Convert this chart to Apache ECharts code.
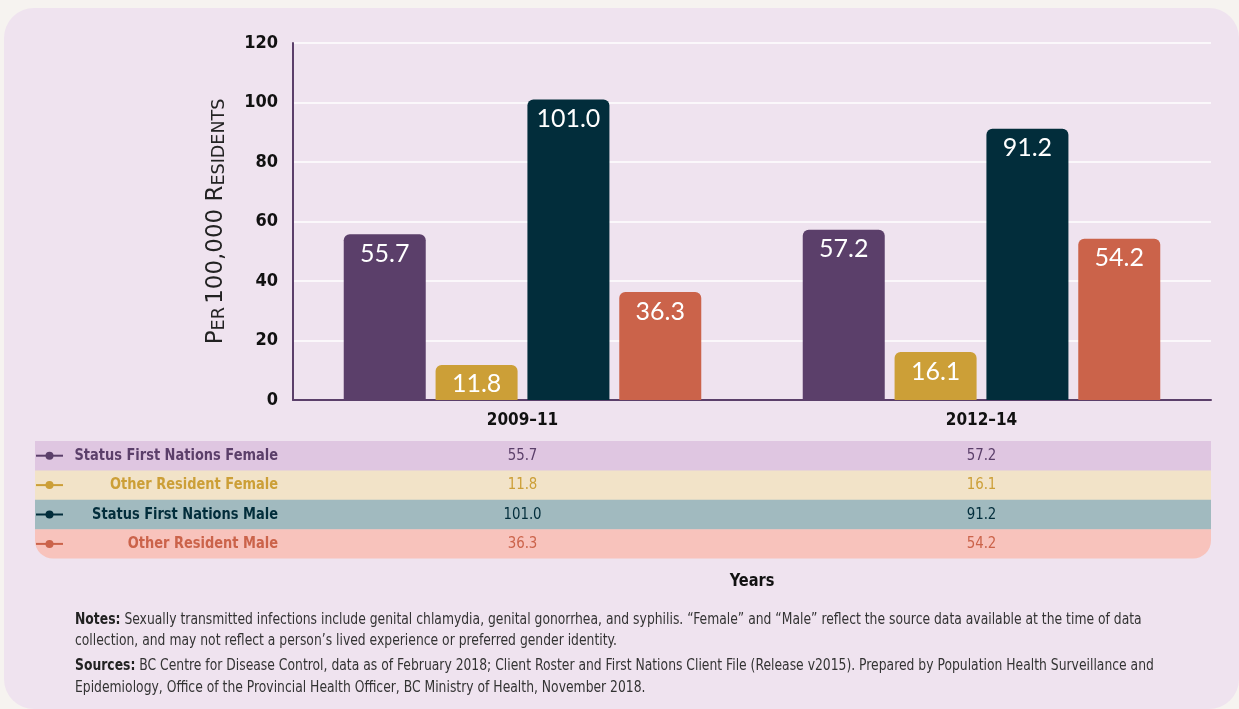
<!DOCTYPE html>
<html>
<head>
<meta charset="utf-8">
<script src="https://cdn.jsdelivr.net/npm/echarts@6/dist/echarts.min.js"></script>
<style>
  html, body { margin: 0; padding: 0; background: #f6f3f0; }
  #panel { position: absolute; left: 4px; top: 8px; width: 1235px; height: 701px; border-radius: 30px; background: #efe3ef; }
  #main { position: absolute; left: 0; top: 0; width: 1239px; height: 709px; }
</style>
</head>
<body>
<div id="panel"></div>
<div id="main"></div>
<script>
// 数据
var years = ['2009–11', '2012–14'];
var seriesNames = ['Status First Nations Female', 'Other Resident Female', 'Status First Nations Male', 'Other Resident Male'];
var sfnFemale = [55.7, 57.2];
var otherFemale = [11.8, 16.1];
var sfnMale = [101.0, 91.2];
var otherMale = [36.3, 54.2];
var yMin = 0, yMax = 120, yStep = 20;

var colors = ['#5b3f6a', '#cc9f37', '#022d3b', '#cb634a'];
var rowColors = ['#dfc6e1', '#f2e3c8', '#a1babf', '#f8c3bc'];
var narrow = "'Liberation Sans Narrow', 'DejaVu Sans Condensed', sans-serif";
var round = "Lato, 'Noto Sans', sans-serif";
var wide = "'DejaVu Sans', 'Noto Sans', sans-serif";
var squeeze = 0.9; // 字体没有窄体，水平压缩一点

var allValues = [sfnFemale, otherFemale, sfnMale, otherMale];

var myChart = echarts.init(document.getElementById('main'));

var option = {
  animation: false,
  backgroundColor: 'transparent',
  grid: { left: 293, right: 28, top: 43, bottom: 309 },
  xAxis: {
    type: 'category',
    data: years,
    axisLine: { lineStyle: { color: '#5b3f6a', width: 2 } },
    axisTick: { show: false },
    axisLabel: { color: '#111', fontFamily: narrow, fontWeight: 'bold', fontSize: 17, margin: 12 }
  },
  yAxis: {
    type: 'value',
    min: yMin,
    max: yMax,
    interval: yStep,
    name: '{a|P}{b|ER} {a|100,000 R}{b|ESIDENTS}',
    nameLocation: 'middle',
    nameGap: 65,
    nameRotate: 90,
    nameTextStyle: {
      color: '#222',
      rich: {
        a: { fontFamily: wide, fontSize: 23, lineHeight: 23, verticalAlign: 'bottom', color: '#222' },
        b: { fontFamily: wide, fontSize: 17.5, lineHeight: 17.5, verticalAlign: 'bottom', color: '#222' }
      }
    },
    axisLine: { show: true, lineStyle: { color: '#5b3f6a', width: 2 } },
    axisTick: { show: false },
    splitLine: { lineStyle: { color: '#ffffff', width: 1.5 } },
    axisLabel: { color: '#111', fontFamily: narrow, fontWeight: 'bold', fontSize: 18, margin: 15 }
  },
  series: seriesNames.map(function (name, i) {
    return {
      name: name,
      type: 'bar',
      data: allValues[i],
      barWidth: 82,
      barGap: '12%',
      itemStyle: { color: colors[i], borderRadius: [6, 6, 0, 0] },
      label: {
        show: true,
        position: 'insideTop',
        distance: 7,
        color: '#fff',
        fontFamily: round,
        fontSize: 25,
        formatter: function (p) { return p.value.toFixed(1); }
      }
    };
  })
};
myChart.setOption(option);

// 表格部分（使用坐标轴换算列位置）
var tableTop = 441, rowH = 29.4, tableLeft = 35, tableRight = 1211;
var elements = [];
seriesNames.forEach(function (name, i) {
  var y = tableTop + i * rowH;
  var cy = y + rowH / 2;
  elements.push({
    type: 'rect', z: -1, silent: true,
    shape: { x: tableLeft, y: y, width: tableRight - tableLeft, height: rowH + (i < 3 ? 0.5 : 0), r: i === 3 ? [0, 0, 18, 18] : 0 },
    style: { fill: rowColors[i] }
  });
  elements.push({ type: 'line', silent: true, shape: { x1: 36, y1: cy, x2: 63, y2: cy }, style: { stroke: colors[i], lineWidth: 2 } });
  elements.push({ type: 'circle', silent: true, shape: { cx: 49.5, cy: cy, r: 4 }, style: { fill: colors[i] } });
  elements.push({
    type: 'text', silent: true, x: 278, y: cy, scaleX: 0.875,
    style: { text: name, align: 'right', verticalAlign: 'middle', fill: colors[i], font: 'bold 16.5px ' + narrow }
  });
  years.forEach(function (yr, j) {
    var cx = myChart.convertToPixel({ xAxisIndex: 0 }, yr);
    elements.push({
      type: 'text', silent: true, x: cx, y: cy, scaleX: squeeze,
      style: { text: allValues[i][j].toFixed(1), align: 'center', verticalAlign: 'middle', fill: colors[i], font: '16.5px ' + narrow }
    });
  });
});

var midX = (myChart.convertToPixel({ xAxisIndex: 0 }, years[0]) + myChart.convertToPixel({ xAxisIndex: 0 }, years[1])) / 2;
elements.push({
  type: 'text', silent: true, x: midX, y: 581, scaleX: squeeze,
  style: { text: 'Years', align: 'center', verticalAlign: 'middle', fill: '#111', font: 'bold 18px ' + narrow }
});

var noteLines = [
  '{b|Notes:} Sexually transmitted infections include genital chlamydia, genital gonorrhea, and syphilis. \u201cFemale\u201d and \u201cMale\u201d reflect the source data available at the time of data',
  'collection, and may not reflect a person\u2019s lived experience or preferred gender identity.',
  '{b|Sources:} BC Centre for Disease Control, data as of February 2018; Client Roster and First Nations Client File (Release v2015). Prepared by Population Health Surveillance and',
  'Epidemiology, Office of the Provincial Health Officer, BC Ministry of Health, November 2018.'
];
var noteY = [620, 641, 666, 688];
noteLines.forEach(function (t, i) {
  elements.push({
    type: 'text', silent: true, x: 75, y: noteY[i], scaleX: 0.887,
    style: {
      text: t, verticalAlign: 'middle', fill: '#333', fontFamily: narrow, fontSize: 15.5,
      rich: { b: { fontFamily: narrow, fontSize: 15.5, fontWeight: 'bold', fill: '#222' } }
    }
  });
});

myChart.setOption({ graphic: { elements: elements } });
</script>
</body>
</html>
